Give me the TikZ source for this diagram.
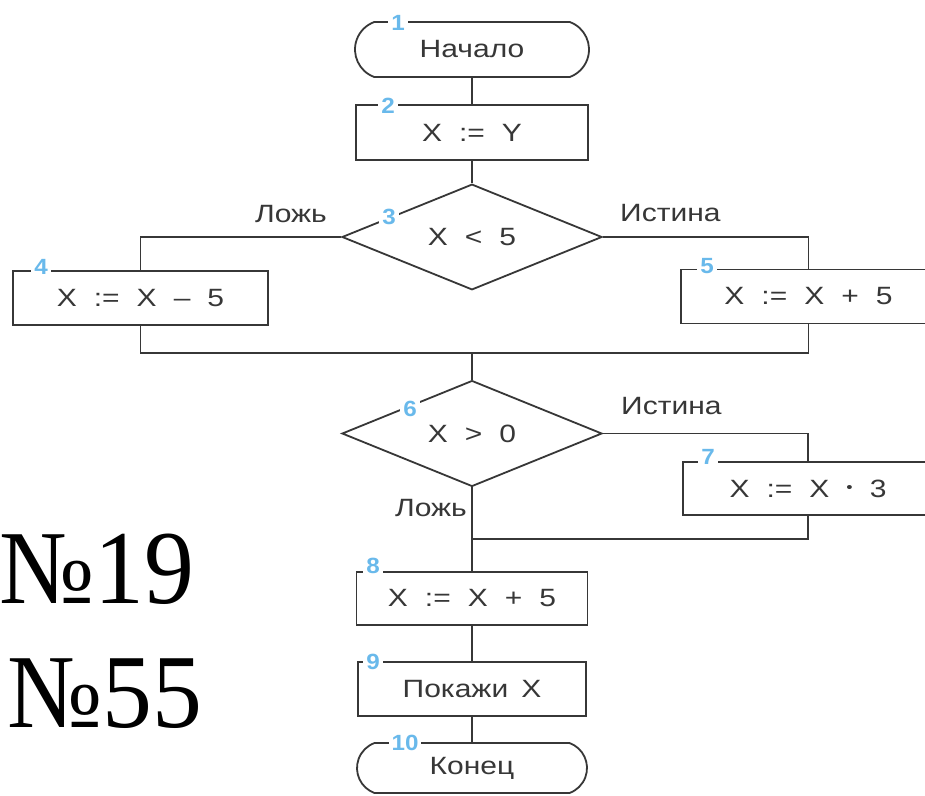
\documentclass[tikz,border=0pt]{standalone}
\usepackage{fontspec}
\setmainfont{Liberation Sans}
\newfontfamily\flowfont{Liberation Sans}[FakeStretch=1.2]
\newfontfamily\numfont{Liberation Sans}[FakeStretch=1.1]
\newfontfamily\bigfont{Liberation Serif}[FakeStretch=0.95]
\usetikzlibrary{shapes.geometric,shapes.misc}
\definecolor{inkgray}{RGB}{55,55,55}
\definecolor{numblue}{RGB}{105,185,235}
\newcommand\gp{\hspace*{17pt}}
\tikzset{
  flowline/.style={draw=inkgray,line width=1.8pt},
  procbox/.style={flowline,rectangle,fill=white,inner sep=0pt,minimum height=54pt,
    text=inkgray,font=\flowfont\fontsize{25}{30}\selectfont},
  termbox/.style={procbox,rounded rectangle,rounded rectangle arc length=140},
  decbox/.style={procbox,diamond,minimum width=260pt,minimum height=103pt},
  numlabel/.style={fill=white,inner xsep=3pt,inner ysep=0pt,text=numblue,
    font=\numfont\bfseries\fontsize{22}{22}\selectfont},
  branchlabel/.style={text=inkgray,inner sep=0pt,font=\flowfont\fontsize{25}{30}\selectfont},
  bignum/.style={inner sep=0pt,anchor=base west,font=\bigfont\fontsize{105}{110}\selectfont}
}
\begin{document}
\begin{tikzpicture}[x=1pt,y=-1pt]
  \path[use as bounding box,fill=white] (0,0) rectangle (925,795);
  \clip (0,0) rectangle (925,795);
  \def\Num[#1,#2,#3]{%
    \node[numlabel] (n#3) at (#1,#2) {#3};
  }
  \node[termbox,minimum width=234pt,minimum height=55pt] (t1) at (472,49.5) {Начало};
  \node[procbox,minimum width=232pt,minimum height=55pt] (b2) at (472,132.5) {X\gp:=\gp Y};
  \node[decbox] (d3) at (472,237) {X\gp<\gp5};
  \node[procbox,minimum width=255pt] (b4) at (140.5,298) {X\gp:=\gp X\gp–\gp5};
  \node[procbox,minimum width=255pt] (b5) at (808.5,296.5) {X\gp:=\gp X\gp+\gp5};
  \node[decbox] (d6) at (472,433.5) {X\gp>\gp0};
  \node[procbox,minimum width=250pt,minimum height=53pt] (b7) at (808,488.5)
    {X\gp:=\gp X\gp\raisebox{5pt}{\fontsize{15}{15}\selectfont•}\gp3};
  \node[procbox,minimum width=231pt,minimum height=53pt] (b8) at (472,598.5) {X\gp:=\gp X\gp+\gp5};
  \node[procbox,minimum width=228pt] (b9) at (472,689) {Покажи\hspace*{13pt}X};
  \node[termbox,minimum width=230pt,minimum height=50pt] (t10) at (472,768) {Конец};
  \coordinate (j1) at (472,353);
  \coordinate (j2) at (472,539);
  \draw[flowline] (t1) -- (b2);
  \draw[flowline] (b2) -- (d3);
  \draw[flowline] (d3.west) -| (b4.north);
  \draw[flowline] (d3.east) -| (b5.north);
  \draw[flowline] (b4.south) |- (j1) -| (b5.south);
  \draw[flowline] (j1) -- (d6.north);
  \draw[flowline] (d6.east) -| (b7.north);
  \draw[flowline] (b7.south) |- (j2);
  \draw[flowline] (d6.south) -- (j2) -- (b8.north);
  \draw[flowline] (b8) -- (b9);
  \draw[flowline] (b9) -- (t10);
  \node[branchlabel,anchor=east] (f3) at (327,214) {Ложь};
  \node[branchlabel,anchor=west] (s3) at (620,213) {Истина};
  \node[branchlabel,anchor=west] (s6) at (621,406) {Истина};
  \node[branchlabel,anchor=east] (f6) at (467,508) {Ложь};
  \foreach \x/\y/\v in{398/23/1, 388/106/2, 389/217/3, 41/267/4, 707/266/5,
                       410/409/6, 708/457/7, 373/566/8, 373/662/9, 405/743/10}{
    \Num[\x,\y,\v]
  }
  \node[bignum] (no19) at (-1,603) {№19};
  \node[bignum] (no55) at (7,727) {№55};
\end{tikzpicture}
\end{document}
